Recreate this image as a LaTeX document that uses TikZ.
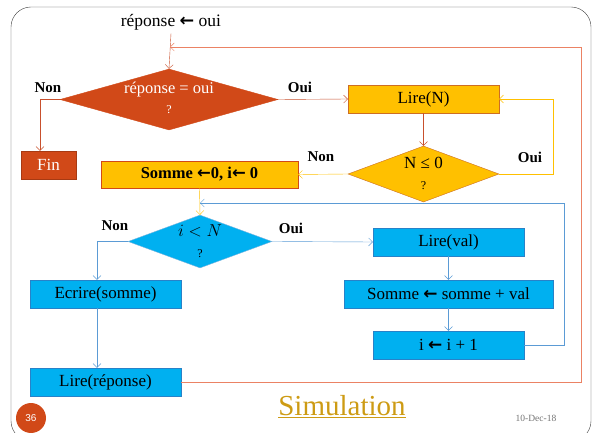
\documentclass[tikz,border=0pt]{standalone}
\usepackage{fontspec}
\setmainfont{Liberation Serif}
\setsansfont{Liberation Sans}
\newfontfamily\fleche{DejaVu Sans}
\newcommand\fl{{\fleche\bfseries ←}}
\usetikzlibrary{shapes.geometric,arrows.meta}

\definecolor{rouge}{RGB}{209,73,24}
\definecolor{rougetrait}{RGB}{200,80,45}
\definecolor{saumon}{RGB}{235,130,100}
\definecolor{orange}{RGB}{255,192,0}
\definecolor{bordorange}{RGB}{205,110,35}
\definecolor{bleu}{RGB}{0,176,240}
\definecolor{bordbleu}{RGB}{40,130,200}
\definecolor{bleutrait}{RGB}{91,155,213}
\definecolor{or}{RGB}{205,155,20}

\tikzset{
  boite/.style={draw, minimum height=28pt, inner sep=0pt, font=\fontsize{17}{19}\selectfont},
  losange/.style={diamond, draw, inner sep=0pt},
  lbl/.style={font=\fontsize{15}{17}\selectfont\bfseries},
  qst/.style={font=\fontsize{12}{14}\selectfont},
  >={Straight Barb[length=4pt,width=8pt]}
}

\begin{document}
\begin{tikzpicture}[x=1pt,y=-1pt]
                \useasboundingbox (0,0) rectangle (595,433);
                \clip (0,0) rectangle (595,433);
                \draw[rounded corners=20pt, black!75] (11,7) rectangle (591,441);

                \node[font=\fontsize{17.5}{19}\selectfont] (titre) at (171,22) {réponse \fl{} oui};

                \node[losange, fill=rouge, draw=rouge, minimum width=218pt, minimum height=61pt] (rep) at (169,99.5) {};
                \node[font=\fontsize{16.5}{18}\selectfont, text=white] at (169,90) {réponse = oui};
                \node[qst, text=white] at (169,110) {?};

                \node[boite, fill=rouge, draw=rouge!80!black, text=white, minimum width=55pt] (fin) at (48.5,165) {Fin};
                \node[boite, fill=orange, draw=bordorange, minimum width=151pt] (lireN) at (423.5,99) {Lire(N)};

                \node[losange, fill=orange, draw=bordorange, minimum width=151pt, minimum height=56pt] (nle) at (423.5,174) {};
                \node[font=\fontsize{17}{19}\selectfont] at (423.5,163) {N ≤ 0};
                \node[qst] at (423.5,186) {?};

                \node[boite, fill=orange, draw=rouge, minimum width=197pt, minimum height=27pt, font=\fontsize{16.5}{18}\selectfont\bfseries] (init) at (199.5,174.5) {Somme \fl0, i\fl{} 0};

                \node[losange, fill=bleu, draw=bordbleu!60, minimum width=144pt, minimum height=53pt] (inf) at (200,241.5) {};
                \node[font=\fontsize{17}{19}\selectfont] at (200,231) {$i<N$};
                \node[qst] at (200,254) {?};

                \node[boite, fill=bleu, draw=bordbleu, minimum width=151pt] (lval) at (448.5,242) {Lire(val)};
                \node[boite, fill=bleu, draw=bordbleu, minimum width=209pt] (som) at (448.5,294) {Somme \fl{} somme + val};
                \node[boite, fill=bleu, draw=bordbleu, minimum width=151pt] (incr) at (448.5,345) {i \fl{} i + 1};
                \node[boite, fill=bleu, draw=bordbleu, minimum width=151pt] (ecr) at (105.5,294) {Ecrire(somme)};
                \node[boite, fill=bleu, draw=bordbleu, minimum width=151pt] (lrep) at (105.5,382) {Lire(réponse)};

                \node[lbl] (n1) at (48,88) {Non};
                \node[lbl] (o1) at (300,87) {Oui};
                \node[lbl] (n2) at (321,157) {Non};
                \node[lbl] (o2) at (530,157) {Oui};
                \node[lbl] (n3) at (115,226) {Non};
                \node[lbl] (o3) at (291,228) {Oui};

                \coordinate (j1) at (170,47);
                \coordinate (c1) at (581,47);
                \coordinate (c2) at (553,174);
                \coordinate (j2) at (200,203);
                \coordinate (c3) at (564,203);

                \draw[->, rougetrait] (titre.south) -- (rep.north);
                \draw[->, saumon] (lrep.east) -| (c1) -- (j1);
                \draw[->, rougetrait] (rep.west) -| ([xshift=-8.5pt]fin.north);
                \draw[->, rougetrait] (rep.east) -- (lireN.west);
                \draw[->, rougetrait] (lireN.south) -- (nle.north);
                \draw[->, orange] (nle.east) -- (c2) |- (lireN.east);
                \draw[->, orange] (nle.west) -- (init.east);
                \draw[->, orange] (init.south) -- (inf.north);
                \draw[->, bleutrait] (inf.west) -| ([xshift=-8.5pt]ecr.north);
                \draw[->, bleutrait] ([xshift=-8.5pt]ecr.south) -- ([xshift=-8.5pt]lrep.north);
                \draw[->, bleutrait] (inf.east) -- (lval.west);
                \draw[->, bleutrait] (lval.south) -- (som.north);
                \draw[->, bleutrait] (som.south) -- (incr.north);
                \draw[->, bleutrait] (incr.east) -| (c3) -- (j2);

                \node[circle, fill=rouge, minimum size=30pt, inner sep=0pt, text=white, font=\sffamily\fontsize{10}{12}\selectfont] (num) at (31,418) {36};
                \node[text=or, font=\fontsize{29}{32}\selectfont] (simu) at (342,407) {\underline{Simulation}};
                \node[text=black!55, font=\fontsize{9.5}{11}\selectfont] (date) at (536,418) {10-Dec-18};
\end{tikzpicture}
\end{document}
